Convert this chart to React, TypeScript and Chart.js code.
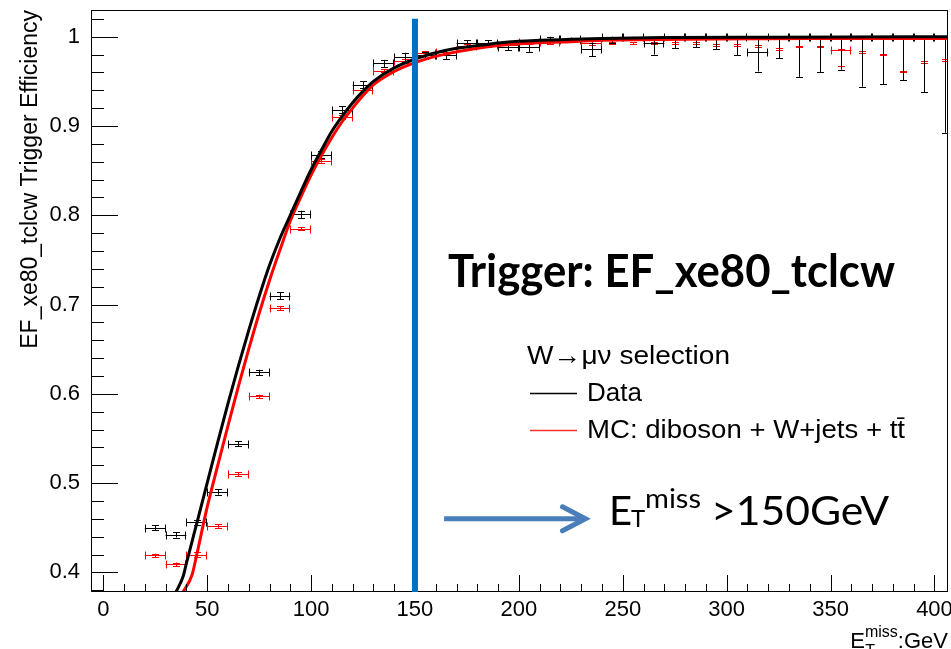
import React, { useEffect, useRef } from "react";
import { Chart, registerables } from "chart.js";

Chart.register(...registerables);

// ---------- data ----------
const binCenters = [25, 35, 45, 55, 65, 75, 85, 95, 105, 115, 125, 135, 145, 155, 165, 175, 185, 195, 205, 215, 225, 235, 245, 255, 265, 275, 285, 295, 305, 315, 325, 335, 345, 355, 365, 375, 385, 395, 405];

const dataEff = [0.450, 0.442, 0.456, 0.490, 0.544, 0.624, 0.710, 0.801, 0.868, 0.918, 0.946, 0.970, 0.977, 0.979, 0.980, 0.993, 0.993, 0.989, 0.989, 0.997, 0.997, 0.986, 1.000, 1.000, 0.993, 1.000, 1.000, 1.000, 1.000, 0.983, 1.000, 1.000, 1.000, 1.000, 1.000, 1.000, 1.000, 1.000, 1.000];
const dataErrLow = [0.003, 0.003, 0.003, 0.003, 0.003, 0.003, 0.004, 0.004, 0.004, 0.004, 0.004, 0.004, 0.005, 0.004, 0.005, 0.003, 0.003, 0.004, 0.006, 0.003, 0.002, 0.008, 0.007, 0.003, 0.013, 0.013, 0.012, 0.014, 0.021, 0.022, 0.024, 0.045, 0.040, 0.037, 0.056, 0.053, 0.049, 0.062, 0.1075];
const dataErrHigh = [0.003, 0.003, 0.003, 0.003, 0.003, 0.003, 0.004, 0.004, 0.004, 0.004, 0.004, 0.004, 0.005, 0.004, 0.005, 0.003, 0.003, 0.004, 0.005, 0.003, 0.002, 0.007, 0, 0, 0.006, 0, 0, 0, 0, 0.017, 0, 0, 0, 0, 0, 0, 0, 0, 0];
const dataBinHalfWidth = [5, 5, 5, 5, 5, 5, 5, 5, 5, 5, 5, 5, 5, 5, 5, 5, 5, 5, 5, 5, 5, 5, 5, 5, 5, 5, 5, 5, 5, 5, 5, 5, 5, 5, 5, 5, 5, 5, 5];

const mcEff = [0.419, 0.409, 0.420, 0.452, 0.510, 0.597, 0.696, 0.785, 0.861, 0.910, 0.940, 0.962, 0.973, 0.982, 0.983, 0.990, 0.991, 0.991, 0.994, 0.994, 0.996, 0.993, 0.993, 0.993, 0.993, 0.993, 0.993, 0.991, 0.991, 0.990, 0.986, 0.989, 0.989, 0.985, 0.983, 0.980, 0.961, 0.972, 0.9735];
const mcErrLow = [0.002, 0.002, 0.003, 0.002, 0.002, 0.002, 0.002, 0.002, 0.002, 0.002, 0.002, 0.002, 0.002, 0.002, 0.002, 0.002, 0.002, 0.002, 0.002, 0.002, 0.002, 0.002, 0.001, 0.001, 0.001, 0.001, 0.001, 0.001, 0.001, 0.001, 0.001, 0.001, 0.001, 0.018, 0.001, 0.001, 0.001, 0.001, 0.001];
const mcErrHigh = [0.002, 0.002, 0.003, 0.002, 0.002, 0.002, 0.002, 0.002, 0.002, 0.002, 0.002, 0.002, 0.002, 0.002, 0.002, 0.002, 0.002, 0.002, 0.002, 0.002, 0.002, 0.002, 0.001, 0.001, 0.001, 0.001, 0.001, 0.001, 0.001, 0.001, 0.001, 0.001, 0.001, 0.001, 0.001, 0.001, 0.001, 0.001, 0.001];
const mcBinHalfWidth = [5, 5, 5, 5, 5, 5, 5, 5, 5, 5, 5, 5, 5, 5, 5, 5, 5, 5, 5, 5, 5, 5, 0, 0, 0, 0, 0, 0, 0, 0, 0, 0, 0, 5, 0, 0, 0, 0, 0];

const dataFitX = [35, 38.5, 40, 45, 50, 55, 60, 65, 70, 75, 80, 85, 90, 95, 100, 105, 110, 115, 120, 125, 130, 140, 150, 160, 170, 180, 190, 200, 210, 225, 240, 270, 320, 410];
const dataFitY = [0.378, 0.396, 0.410, 0.455, 0.500, 0.545, 0.589, 0.631, 0.671, 0.709, 0.744, 0.774, 0.800, 0.826, 0.851, 0.873, 0.894, 0.911, 0.926, 0.939, 0.950, 0.965, 0.975, 0.982, 0.987, 0.990, 0.993, 0.995, 0.996, 0.997, 0.998, 0.999, 0.9995, 1.0];

const mcFitX = [38.4, 42.7, 45, 50, 55, 60, 65, 70, 75, 80, 85, 90, 95, 100, 105, 110, 115, 120, 125, 130, 140, 150, 160, 170, 180, 190, 200, 220, 240, 280, 340, 410];
const mcFitY = [0.378, 0.397, 0.420, 0.473, 0.519, 0.564, 0.608, 0.650, 0.690, 0.727, 0.761, 0.7935, 0.820, 0.845, 0.867, 0.887, 0.905, 0.920, 0.934, 0.946, 0.961, 0.971, 0.978, 0.983, 0.987, 0.990, 0.992, 0.994, 0.996, 0.997, 0.998, 0.998];

const xTickValues = [0, 50, 100, 150, 200, 250, 300, 350, 400];
const yTickValues = [0.4, 0.5, 0.6, 0.7, 0.8, 0.9, 1.0];
const xTickLabels = ["0", "50", "100", "150", "200", "250", "300", "350", "400"];
const yTickLabels = ["0.4", "0.5", "0.6", "0.7", "0.8", "0.9", "1"];

const X_MIN = -5.9;
const X_MAX = 406.5;
const Y_MIN = 0.378;
const Y_MAX = 1.0299;

const cutValue = 150;
const cutLineTop = 1.02;
const arrowFrom = 164;
const arrowTo = 233;
const arrowLevel = 0.46;

const ROOT_FONT = '"Liberation Sans", Arial, Helvetica, sans-serif';

function fitText(ctx: CanvasRenderingContext2D, text: string, x: number, y: number, font: string, width: number) {
  ctx.save();
  ctx.font = font;
  const w = ctx.measureText(text).width;
  ctx.translate(x, y);
  ctx.scale(width / w, 1);
  ctx.textAlign = "left";
  ctx.textBaseline = "alphabetic";
  ctx.fillText(text, 0, 0);
  ctx.restore();
}

function drawErrors(ctx: CanvasRenderingContext2D, xs: any, ys: any, centers: number[], vals: number[], lo: number[], hi: number[], hw: number[], color: string) {
  ctx.strokeStyle = color;
  ctx.lineWidth = 1;
  const cap = 3.5;
  for (let i = 0; i < centers.length; i++) {
    const px = Math.round(xs.getPixelForValue(centers[i])) + 0.5;
    const py = Math.round(ys.getPixelForValue(vals[i])) + 0.5;
    ctx.beginPath();
    if (hw[i] > 0) {
      const x1 = xs.getPixelForValue(centers[i] - hw[i]);
      const x2 = xs.getPixelForValue(centers[i] + hw[i]);
      ctx.moveTo(x1, py); ctx.lineTo(x2, py);
      ctx.moveTo(Math.round(x1) + 0.5, py - 4); ctx.lineTo(Math.round(x1) + 0.5, py + 4);
      ctx.moveTo(Math.round(x2) - 0.5, py - 4); ctx.lineTo(Math.round(x2) - 0.5, py + 4);
    }
    const yl = ys.getPixelForValue(vals[i] - lo[i]);
    const yh = ys.getPixelForValue(vals[i] + hi[i]);
    ctx.moveTo(px, yl); ctx.lineTo(px, yh);
    if (lo[i] > 0) { ctx.moveTo(px - cap, Math.round(yl) + 0.5); ctx.lineTo(px + cap, Math.round(yl) + 0.5); }
    if (hi[i] > 0) { ctx.moveTo(px - cap, Math.round(yh) + 0.5); ctx.lineTo(px + cap, Math.round(yh) + 0.5); }
    ctx.stroke();
  }
}

const rootPlugin = {
  id: "rootStyle",
  beforeDatasetsDraw(chart: any) {
    const { ctx, chartArea, scales } = chart;
    ctx.save();
    ctx.beginPath();
    ctx.rect(chartArea.left, chartArea.top, chartArea.right - chartArea.left, chartArea.bottom - chartArea.top);
    ctx.clip();
    drawErrors(ctx, scales.x, scales.y, binCenters, mcEff, mcErrLow, mcErrHigh, mcBinHalfWidth, "#ff0000");
    drawErrors(ctx, scales.x, scales.y, binCenters, dataEff, dataErrLow, dataErrHigh, dataBinHalfWidth, "#000000");
    ctx.restore();
  },
  afterDraw(chart: any) {
    const { ctx, chartArea, scales } = chart;
    const xs = scales.x, ys = scales.y;
    const { left, right, top, bottom } = chartArea;
    ctx.save();

    // frame
    ctx.strokeStyle = "#000";
    ctx.lineWidth = 1;
    ctx.strokeRect(Math.round(left) + 0.5, Math.round(top) + 0.5, Math.round(right - left) - 1, Math.round(bottom - top) - 1);

    // inward ticks, y axis
    ctx.beginPath();
    const yStep = yTickValues[1] - yTickValues[0];
    for (let k = -10; k <= 60; k++) {
      const v = yTickValues[0] + (k * yStep) / 5;
      if (v < Y_MIN - 1e-9 || v > Y_MAX + 1e-9) continue;
      const py = Math.round(ys.getPixelForValue(v)) + 0.5;
      const len = k % 5 === 0 ? 27 : 13;
      ctx.moveTo(left, py); ctx.lineTo(left + len, py);
    }
    // inward ticks, x axis
    const xStep = xTickValues[1] - xTickValues[0];
    for (let k = -10; k <= 60; k++) {
      const v = xTickValues[0] + (k * xStep) / 5;
      if (v < X_MIN - 1e-9 || v > X_MAX + 1e-9) continue;
      const px = Math.round(xs.getPixelForValue(v)) + 0.5;
      const len = k % 5 === 0 ? 17 : 8;
      ctx.moveTo(px, bottom); ctx.lineTo(px, bottom - len);
    }
    ctx.stroke();

    // cut line
    ctx.strokeStyle = "#0070c0";
    ctx.lineWidth = 6;
    ctx.beginPath();
    const cx = xs.getPixelForValue(cutValue);
    ctx.moveTo(cx, ys.getPixelForValue(cutLineTop));
    ctx.lineTo(cx, bottom);
    ctx.stroke();

    // arrow
    const ax1 = xs.getPixelForValue(arrowFrom);
    const ax2 = xs.getPixelForValue(arrowTo);
    const ay = ys.getPixelForValue(arrowLevel);
    ctx.strokeStyle = "#4a7ebb";
    ctx.lineWidth = 5;
    ctx.lineCap = "butt";
    ctx.beginPath();
    ctx.moveTo(ax1, ay); ctx.lineTo(ax2 - 3, ay);
    ctx.stroke();
    ctx.lineCap = "round";
    ctx.lineJoin = "miter";
    ctx.beginPath();
    ctx.moveTo(ax2 - 25, ay - 12);
    ctx.lineTo(ax2 - 2, ay);
    ctx.lineTo(ax2 - 25, ay + 12);
    ctx.stroke();

    // big annotation texts
    ctx.fillStyle = "#000";
    fitText(ctx, "Trigger: EF_xe80_tclcw", 448, 287, 'bold 46px Lato, "Open Sans", sans-serif', 447);
    ctx.font = '40px Lato, "Open Sans", sans-serif';
    ctx.textBaseline = "alphabetic";
    ctx.textAlign = "left";
    ctx.fillText("E", 609, 525);
    ctx.font = '24px Lato, "Open Sans", sans-serif';
    ctx.fillText("T", 631, 527);
    fitText(ctx, "miss", 645, 508, '26px Lato, "Open Sans", sans-serif', 56);
    fitText(ctx, ">150GeV", 711, 525, '40px Lato, "Open Sans", sans-serif', 178);

    // legend
    ctx.fillStyle = "#000";
    fitText(ctx, "W\u2192\u03bc\u03bd selection", 527, 364, "26px " + ROOT_FONT, 203);
    ctx.font = "26px " + ROOT_FONT;
    ctx.textAlign = "left";
    ctx.fillText("Data", 587, 401);
    fitText(ctx, "MC: diboson + W+jets + tt\u0304", 587, 438, "26px " + ROOT_FONT, 318);
    ctx.lineCap = "butt";
    ctx.lineWidth = 1.5;
    ctx.strokeStyle = "#000";
    ctx.beginPath(); ctx.moveTo(530, 393.5); ctx.lineTo(577, 393.5); ctx.stroke();
    ctx.strokeStyle = "#ff3030";
    ctx.beginPath(); ctx.moveTo(530, 430.5); ctx.lineTo(577, 430.5); ctx.stroke();

    // x axis title
    ctx.fillStyle = "#000";
    ctx.textAlign = "right";
    ctx.font = "22px " + ROOT_FONT;
    ctx.fillText(":GeV", 948, 648);
    const gevW = ctx.measureText(":GeV").width;
    ctx.font = "16px " + ROOT_FONT;
    ctx.fillText("miss", 948 - gevW, 637);
    const missW = ctx.measureText("miss").width;
    ctx.fillText("T", 948 - gevW - missW + 10, 656);
    ctx.font = "22px " + ROOT_FONT;
    ctx.fillText("E", 948 - gevW - missW, 648);

    ctx.restore();
  },
};

export default function App() {
  const canvasRef = useRef<HTMLCanvasElement | null>(null);

  useEffect(() => {
    const canvas = canvasRef.current;
    if (!canvas) return;
    const chart = new Chart(canvas, {
      type: "scatter",
      data: {
        datasets: [
          {
            label: "MC fit",
            data: mcFitX.map((x, i) => ({ x, y: mcFitY[i] })),
            showLine: true,
            borderColor: "#ff0000",
            borderWidth: 3,
            pointRadius: 0,
            cubicInterpolationMode: "monotone",
            order: 2,
          },
          {
            label: "Data fit",
            data: dataFitX.map((x, i) => ({ x, y: dataFitY[i] })),
            showLine: true,
            borderColor: "#000000",
            borderWidth: 3,
            pointRadius: 0,
            cubicInterpolationMode: "monotone",
            order: 1,
          },
          {
            label: "Data",
            data: binCenters.map((x, i) => ({ x, y: dataEff[i] })),
            pointRadius: 0,
            showLine: false,
            order: 3,
          },
          {
            label: "MC: diboson + W+jets + tt\u0304",
            data: binCenters.map((x, i) => ({ x, y: mcEff[i] })),
            pointRadius: 0,
            showLine: false,
            order: 4,
          },
        ],
      },
      options: {
        animation: false,
        responsive: true,
        maintainAspectRatio: false,
        events: [],
        layout: { padding: { top: 10, right: 3, left: 0, bottom: 0 } },
        plugins: { legend: { display: false }, tooltip: { enabled: false } },
        scales: {
          x: {
            type: "linear",
            min: X_MIN,
            max: X_MAX,
            grid: { display: false },
            border: { display: false },
            afterBuildTicks: (s: any) => {
              s.ticks = xTickValues.map((v) => ({ value: v }));
            },
            afterFit: (s: any) => {
              s.height = 57;
              s.paddingLeft = 0;
              s.paddingRight = 0;
            },
            ticks: {
              padding: -3,
              color: "#000",
              maxRotation: 0,
              autoSkip: false,
              font: { family: ROOT_FONT, size: 22 },
              callback: (v: any) => {
                const i = xTickValues.indexOf(Number(v));
                return i >= 0 ? xTickLabels[i] : "";
              },
            },
          },
          y: {
            type: "linear",
            min: Y_MIN,
            max: Y_MAX,
            grid: { display: false },
            border: { display: false },
            afterBuildTicks: (s: any) => {
              s.ticks = yTickValues.map((v) => ({ value: v }));
            },
            afterFit: (s: any) => {
              s.width = 91;
              s.paddingTop = 0;
              s.paddingBottom = 0;
            },
            ticks: {
              padding: 3,
              color: "#000",
              autoSkip: false,
              font: { family: ROOT_FONT, size: 22 },
              callback: (v: any) => {
                const i = yTickValues.findIndex((t) => Math.abs(t - Number(v)) < 1e-9);
                return i >= 0 ? yTickLabels[i] : "";
              },
            },
            title: {
              display: true,
              text: "EF_xe80_tclcw Trigger Efficiency",
              align: "end",
              color: "#000",
              font: { family: ROOT_FONT, size: 23 },
              padding: { top: 17, bottom: 0 },
            },
          },
        },
      },
      plugins: [rootPlugin],
    } as any);
    return () => chart.destroy();
  }, []);

  return (
    <div style={{ position: "absolute", left: 0, top: 0, width: 951, height: 649, background: "#fff" }}>
      <canvas ref={canvasRef} />
    </div>
  );
}
